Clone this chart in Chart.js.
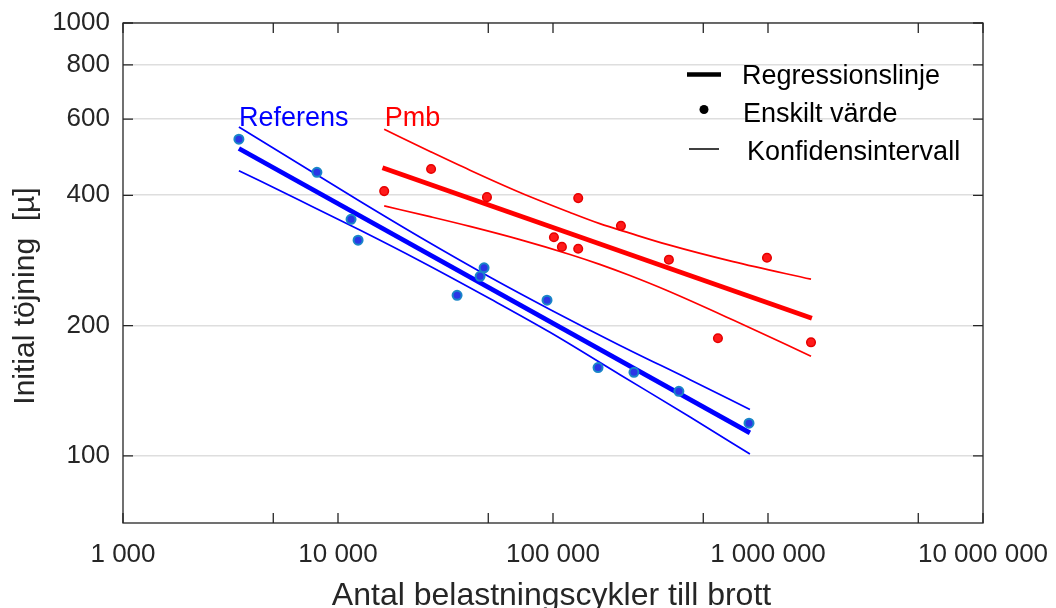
<!DOCTYPE html>
<html>
<head>
<meta charset="utf-8">
<title>Initial töjning mot antal belastningscykler</title>
<script src="https://cdn.jsdelivr.net/npm/chart.js@4.4.1/dist/chart.umd.min.js"></script>
<style>
  html, body { margin: 0; padding: 0; background: #fff; }
  #wrap { width: 1056px; height: 608px; position: relative; }
</style>
</head>
<body>
<div id="wrap"><canvas id="chart"></canvas></div>
<script>
// tick positions on the two log axes
const xTickValues = [1000, 5000, 10000, 50000, 100000, 500000, 1000000, 5000000, 10000000];
const yTickValues = [100, 200, 400, 600, 800, 1000];

// Referens - single values
const refX = [3460, 7980, 11500, 12400, 35800, 45800, 47800, 93800, 162000, 238000, 385000, 816000];
const refY = [539, 452, 352, 315, 235, 260, 272, 229, 160, 156, 141, 119];
// Referens - regression line and confidence interval
const refRegX = [3460, 824000];
const refRegY = [513, 113];
const refCiX = [3460, 6660, 12700, 24100, 51500, 96800, 205000, 434000, 824000];
const refCiUpper = [575, 471, 387, 320, 258, 218, 180, 150, 128];
const refCiLower = [456, 389, 332, 282, 230, 193, 154, 123, 101];

// Pmb - single values
const pmbX = [16400, 27100, 49300, 101000, 110000, 131000, 131000, 207000, 346000, 585000, 989000, 1585000];
const pmbY = [409, 460, 396, 320, 304, 301, 394, 340, 284, 187, 287, 183];
// Pmb - regression line and confidence interval
const pmbRegX = [16100, 1600000];
const pmbRegY = [463, 208];
const pmbCiX = [16400, 26800, 41100, 70200, 120000, 165000, 228000, 339000, 688000, 1585000];
const pmbCiUpper = [568, 505, 457, 406, 365, 344, 327, 308, 281, 256];
const pmbCiLower = [378, 357, 339, 316, 292, 277, 261, 241, 206, 170];

// group labels written in the plot
const groupNames = ['Referens', 'Pmb'];
const groupLabelX = [3460, 16500];
const groupLabelY = [578, 578];
const groupColors = ['#0000ff', '#ff0000'];

const legendLabels = ['Regressionslinje', 'Enskilt värde', 'Konfidensintervall'];

const xTitle = 'Antal belastningscykler till brott';
const yTitle = 'Initial töjning  [µ]';

const FONT = '"Liberation Sans", Arial, Helvetica, sans-serif';
const axisColor = '#262626';

const pts = (xs, ys) => xs.map((x, i) => ({ x: x, y: ys[i] }));

// space as thousands separator: 1 000 000
const fmt = v => String(Math.round(v)).replace(/\B(?=(\d{3})+(?!\d))/g, ' ');

// keep the plot box where the layout padding puts it
const noEdgePadding = s => {
  s.paddingTop = 0; s.paddingBottom = 0;
  s.paddingLeft = 0; s.paddingRight = 0;
};

const framePlugin = {
  id: 'frame',
  afterDraw(chart) {
    const { ctx, chartArea: a, scales } = chart;
    const x = scales.x, y = scales.y;
    ctx.save();

    // box round the plot
    ctx.strokeStyle = axisColor;
    ctx.lineWidth = 1.3;
    ctx.strokeRect(a.left, a.top, a.right - a.left, a.bottom - a.top);

    // tick marks pointing inwards
    ctx.beginPath();
    xTickValues.forEach(v => {
      const px = x.getPixelForValue(v);
      ctx.moveTo(px, a.bottom); ctx.lineTo(px, a.bottom - 10);
      ctx.moveTo(px, a.top); ctx.lineTo(px, a.top + 10);
    });
    yTickValues.forEach(v => {
      const py = y.getPixelForValue(v);
      ctx.moveTo(a.left, py); ctx.lineTo(a.left + 10, py);
      ctx.moveTo(a.right, py); ctx.lineTo(a.right - 10, py);
    });
    ctx.stroke();

    // group names
    ctx.font = '27px ' + FONT;
    ctx.textAlign = 'left';
    ctx.textBaseline = 'alphabetic';
    groupNames.forEach((name, i) => {
      ctx.fillStyle = groupColors[i];
      ctx.fillText(name, x.getPixelForValue(groupLabelX[i]), y.getPixelForValue(groupLabelY[i]));
    });

    // legend
    ctx.fillStyle = '#000';
    ctx.strokeStyle = '#000';
    ctx.lineWidth = 4.5;
    ctx.beginPath(); ctx.moveTo(687, 74.5); ctx.lineTo(721, 74.5); ctx.stroke();
    ctx.beginPath(); ctx.arc(704, 109.5, 4.5, 0, Math.PI * 2); ctx.fill();
    ctx.lineWidth = 1.5;
    ctx.beginPath(); ctx.moveTo(689, 149); ctx.lineTo(719, 149); ctx.stroke();
    ctx.fillText(legendLabels[0], 742, 84);
    ctx.fillText(legendLabels[1], 743, 121.5);
    ctx.fillText(legendLabels[2], 747, 160);

    // axis titles
    ctx.fillStyle = axisColor;
    ctx.textAlign = 'center';
    ctx.font = '32px ' + FONT;
    ctx.fillText(xTitle, 551.5, 605);
    ctx.save();
    ctx.translate(33.5, 296);
    ctx.rotate(-Math.PI / 2);
    ctx.font = '30px ' + FONT;
    ctx.fillText(yTitle, 0, 0);
    ctx.restore();

    ctx.restore();
  }
};

const ciLine = (label, xs, ys, color) => ({
  label: label,
  data: pts(xs, ys),
  showLine: true,
  borderColor: color,
  borderWidth: 1.7,
  cubicInterpolationMode: 'monotone',
  pointRadius: 0
});

const ctx = document.getElementById('chart').getContext('2d');
new Chart(ctx, {
  type: 'scatter',
  data: {
    datasets: [
      {
        label: 'Referens',
        data: pts(refX, refY),
        pointRadius: 4.5,
        pointBackgroundColor: '#2a36e6',
        pointBorderColor: '#1a86c8',
        pointBorderWidth: 2
      },
      {
        label: 'Pmb',
        data: pts(pmbX, pmbY),
        pointRadius: 4.3,
        pointBackgroundColor: '#ff1a1a',
        pointBorderColor: '#e60000',
        pointBorderWidth: 1.5
      },
      {
        label: 'Referens regression',
        data: pts(refRegX, refRegY),
        showLine: true,
        borderColor: '#0000ff',
        borderWidth: 4.8,
        pointRadius: 0
      },
      {
        label: 'Pmb regression',
        data: pts(pmbRegX, pmbRegY),
        showLine: true,
        borderColor: '#ff0000',
        borderWidth: 4.8,
        pointRadius: 0
      },
      ciLine('Referens övre', refCiX, refCiUpper, '#0000ff'),
      ciLine('Referens undre', refCiX, refCiLower, '#0000ff'),
      ciLine('Pmb övre', pmbCiX, pmbCiUpper, '#ff0000'),
      ciLine('Pmb undre', pmbCiX, pmbCiLower, '#ff0000')
    ]
  },
  options: {
    responsive: true,
    maintainAspectRatio: false,
    animation: false,
    layout: {
      padding: { left: 0, right: 73, top: 23, bottom: 0 }
    },
    plugins: {
      legend: { display: false },
      tooltip: { enabled: false }
    },
    scales: {
      x: {
        type: 'logarithmic',
        min: 1000,
        max: 10000000,
        afterFit: s => { s.height = 85; noEdgePadding(s); },
        afterBuildTicks: s => { s.ticks = xTickValues.map(v => ({ value: v })); },
        grid: { display: false, drawTicks: false },
        border: { display: false },
        ticks: {
          autoSkip: false,
          maxRotation: 0,
          padding: 16,
          color: axisColor,
          font: { family: FONT, size: 26 },
          callback: v => Number.isInteger(Math.log10(v)) ? fmt(v) : ''
        }
      },
      y: {
        type: 'logarithmic',
        min: 70,
        max: 1000,
        afterFit: s => { s.width = 123; noEdgePadding(s); },
        afterBuildTicks: s => { s.ticks = yTickValues.map(v => ({ value: v })); },
        grid: { color: '#dedede', lineWidth: 1.6, drawTicks: false },
        border: { display: false },
        ticks: {
          padding: 13,
          color: axisColor,
          font: { family: FONT, size: 26 },
          callback: v => String(v)
        }
      }
    }
  },
  plugins: [framePlugin]
});
</script>
</body>
</html>
